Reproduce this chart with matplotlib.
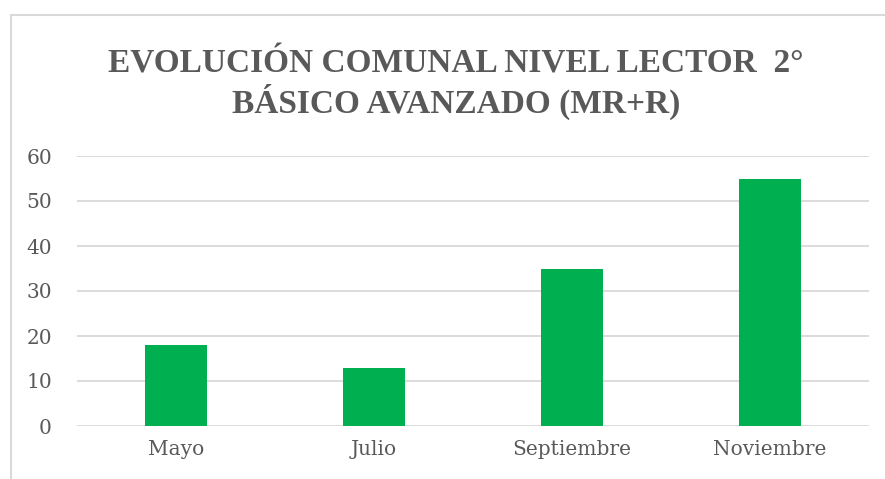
import matplotlib
matplotlib.use("Agg")
import matplotlib.pyplot as plt
from matplotlib.lines import Line2D

categories = ["Mayo", "Julio", "Septiembre", "Noviembre"]
values = [18, 13, 35, 55]
yticks = [0, 10, 20, 30, 40, 50, 60]
title = "EVOLUCIÓN COMUNAL NIVEL LECTOR  2°\nBÁSICO AVANZADO (MR+R)"

W, H = 885, 479
fig = plt.figure(figsize=(W/100, H/100), dpi=100)
fig.patch.set_facecolor("white")

ax = fig.add_axes([77/W, 1-426/H, (869-77)/W, (426-156)/H])
ax.bar(range(len(categories)), values, width=0.313, color="#00B050", zorder=3)
ax.set_xlim(-0.5, len(categories)-0.5)
ax.set_ylim(0, 60)
ax.set_yticks(yticks)
ax.set_xticks(range(len(categories)))
ax.set_xticklabels(categories)
for s in ax.spines.values():
    s.set_visible(False)
ax.grid(axis="y", color="#D9D9D9", linewidth=1.3, zorder=0)
ax.tick_params(length=0, labelsize=14.5, labelcolor="#595959", pad=10)
ax.tick_params(axis="y", pad=18)
for lab in ax.get_xticklabels() + ax.get_yticklabels():
    lab.set_family(["DejaVu Serif"])

fig.text(456/W, 1-84/H, title, ha="center", va="center", fontsize=24,
         fontweight="bold", color="#595959", family="Liberation Serif",
         linespacing=1.15)

fig.add_artist(Line2D([11/W, 11/W], [0, 1-15/H], transform=fig.transFigure, color="#D9D9D9", lw=1.5))
fig.add_artist(Line2D([11/W, 1], [1-15/H, 1-15/H], transform=fig.transFigure, color="#D9D9D9", lw=1.5))

fig.savefig("out.png", dpi=100)
